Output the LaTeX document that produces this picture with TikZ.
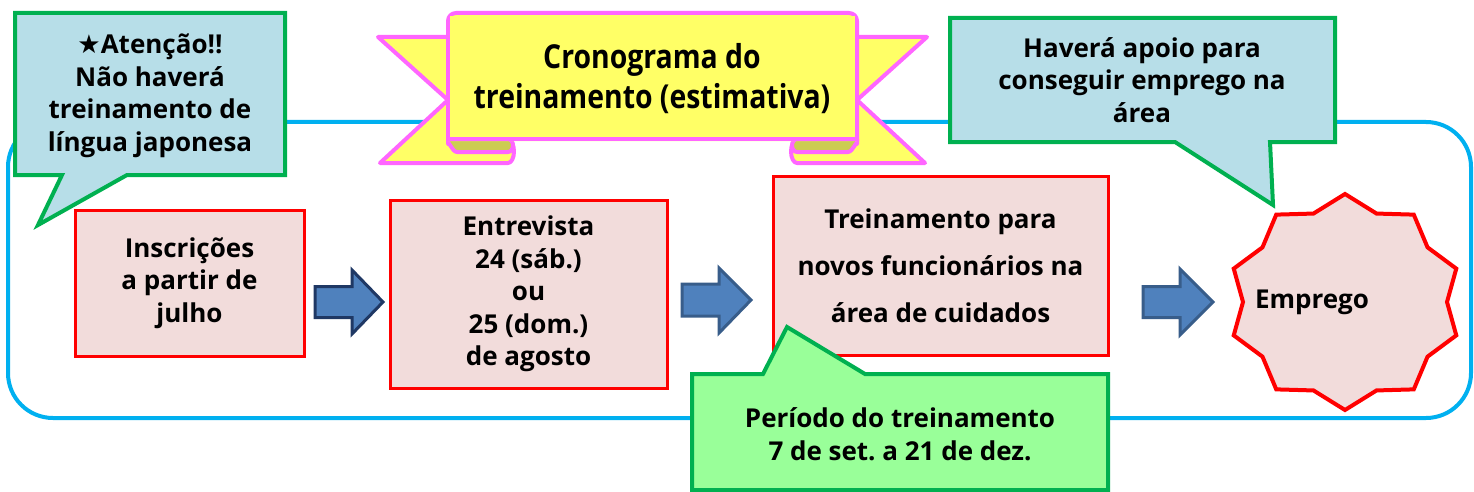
\documentclass[tikz,border=0pt]{standalone}
\usepackage{fontspec}
\setmainfont{Open Sans}
\newfontfamily\bannerfont[FakeStretch=0.86]{Open Sans}
\newfontfamily\symfont{DejaVu Sans}
\frenchspacing
\definecolor{framecyan}{RGB}{0,176,240}
\definecolor{calloutblue}{RGB}{183,222,232}
\definecolor{calloutgreen}{RGB}{0,176,80}
\definecolor{lightgreen}{RGB}{153,255,153}
\definecolor{boxfill}{RGB}{242,220,219}
\definecolor{boxred}{RGB}{255,0,0}
\definecolor{arrowfill}{RGB}{79,129,189}
\definecolor{arrowline}{RGB}{56,93,138}
\definecolor{arrowdark}{RGB}{31,56,100}
\definecolor{ribbonpink}{RGB}{255,102,255}
\definecolor{ribbonyellow}{RGB}{255,255,102}
\definecolor{ribbonolive}{RGB}{204,204,82}
\tikzset{
  frame/.style={draw=framecyan, line width=4pt, rounded corners=45pt},
  callout/.style={draw=calloutgreen, line width=4pt, line join=miter},
  redbox/.style={draw=boxred, fill=boxfill, line width=3pt, inner sep=0pt},
  txt/.style={align=center, font=\fontsize{26}{32.5}\selectfont\bfseries\frenchspacing, inner sep=0pt},
  ribbon/.style={draw=ribbonpink, fill=ribbonyellow, line width=4pt, line join=round},
  blockarrow/.style={fill=arrowfill, draw=arrowline, line width=3pt, line join=miter},
}
\begin{document}
\begin{tikzpicture}[x=1pt,y=-1pt]
\useasboundingbox (0,0) rectangle (1474,492);
\fill[white] (0,0) rectangle (1474,492);

% outer frame
\draw[frame] (8,122) rectangle (1471,418);

% ribbon: left wing
\draw[ribbon] (378,37) -- (470,37) -- (470,140) -- (508,140)
  arc[start angle=-90, end angle=90, x radius=6, y radius=11.5]
  -- (380,163) -- (448,100) -- cycle;
% ribbon: right wing
\draw[ribbon] (927,37) -- (835,37) -- (835,140) -- (797,140)
  arc[start angle=270, end angle=90, x radius=6, y radius=11.5]
  -- (925,163) -- (857,100) -- cycle;
% olive backs of the curls
\draw[ribbon, fill=ribbonolive] (448,139) -- (508,139)
  arc[start angle=-90, end angle=90, x radius=5, y radius=6.5]
  -- (457,152) to[out=180, in=90] (448,144) -- cycle;
\draw[ribbon, fill=ribbonolive] (857,139) -- (797,139)
  arc[start angle=270, end angle=90, x radius=5, y radius=6.5]
  -- (848,152) to[out=0, in=90] (857,144) -- cycle;
% ribbon body
\draw[ribbon, rounded corners=8pt] (448,141) -- (448,13) -- (857,13) -- (857,141);
\fill[ribbonyellow] (450,16) rectangle (855,137);
\draw[ribbonpink, line width=4pt] (448,139) -- (857,139);
\node[align=center, inner sep=0pt, font=\fontsize{33}{40}\bannerfont\bfseries] (title) at (652,79)
  {Cronograma do\\treinamento (estimativa)};

% left callout
\draw[callout, fill=calloutblue] (15,13) -- (285,13) -- (285,175) -- (127,175)
  -- (38,225) -- (62,175) -- (15,175) -- cycle;
\node[txt] (note1) at (150,96) {{\symfont ★}Atenção!!\\Não haverá\\treinamento de\\língua japonesa};

% right callout
\draw[callout, fill=calloutblue] (950,18) -- (1335,18) -- (1335,142) -- (1270,142)
  -- (1273,205) -- (1175,142) -- (950,142) -- cycle;
\node[txt] (note2) at (1142,80) {Haverá apoio para\\conseguir emprego na\\área};

% process boxes
\node[redbox, minimum width=229pt, minimum height=146pt] (b1) at (189.5,283) {};
\node[txt] (t1) at (b1.center) {Inscrições\\a partir de\\julho};
\node[redbox, minimum width=277pt, minimum height=188pt] (b2) at (528.5,294) {};
\node[txt] (t2) at (b2.center) {Entrevista\\24 (sáb.)\\ou\\25 (dom.)\\de agosto};
\node[redbox, minimum width=335pt, minimum height=179pt] (b3) at (940.5,265.5) {};
\node[txt, font=\fontsize{26}{47}\selectfont\bfseries] (t3) at (b3.center)
  {Treinamento para\\novos funcionários na\\área de cuidados};

% block arrows
\draw[blockarrow, draw=arrowdark, shift={(315,302)}] (0,-15.5) -- (37,-15.5) -- (37,-32) -- (68,0)
  -- (37,32) -- (37,15.5) -- (0,15.5) -- cycle;
\draw[blockarrow, shift={(682,300)}] (0,-16) -- (37,-16) -- (37,-32) -- (69,0)
  -- (37,33) -- (37,16) -- (0,16) -- cycle;
\draw[blockarrow, shift={(1143,302)}] (0,-15.5) -- (37,-15.5) -- (37,-33) -- (70,0)
  -- (37,33) -- (37,15.5) -- (0,15.5) -- cycle;

% star
\draw[redbox, line width=4pt, line join=miter, shift={(1345,302)}]
  (90:117 and 108) -- (72:102 and 93) -- (54:117 and 108) -- (36:102 and 93)
  -- (18:117 and 108) -- (0:102 and 93) -- (-18:117 and 108) -- (-36:102 and 93)
  -- (-54:117 and 108) -- (-72:102 and 93) -- (-90:117 and 108) -- (-108:102 and 93)
  -- (-126:117 and 108) -- (-144:102 and 93) -- (-162:117 and 108) -- (-180:102 and 93)
  -- (-198:117 and 108) -- (-216:102 and 93) -- (-234:117 and 108) -- (-252:102 and 93) -- cycle;
\node[txt] (emp) at (1312,302) {Emprego};

% bottom callout
\draw[callout, fill=lightgreen] (692,374) -- (763,374) -- (787,327) -- (865,374)
  -- (1108,374) -- (1108,490) -- (692,490) -- cycle;
\node[txt] (note3) at (900,434) {Período do treinamento\\7 de set. a 21 de dez.};
\end{tikzpicture}
\end{document}
